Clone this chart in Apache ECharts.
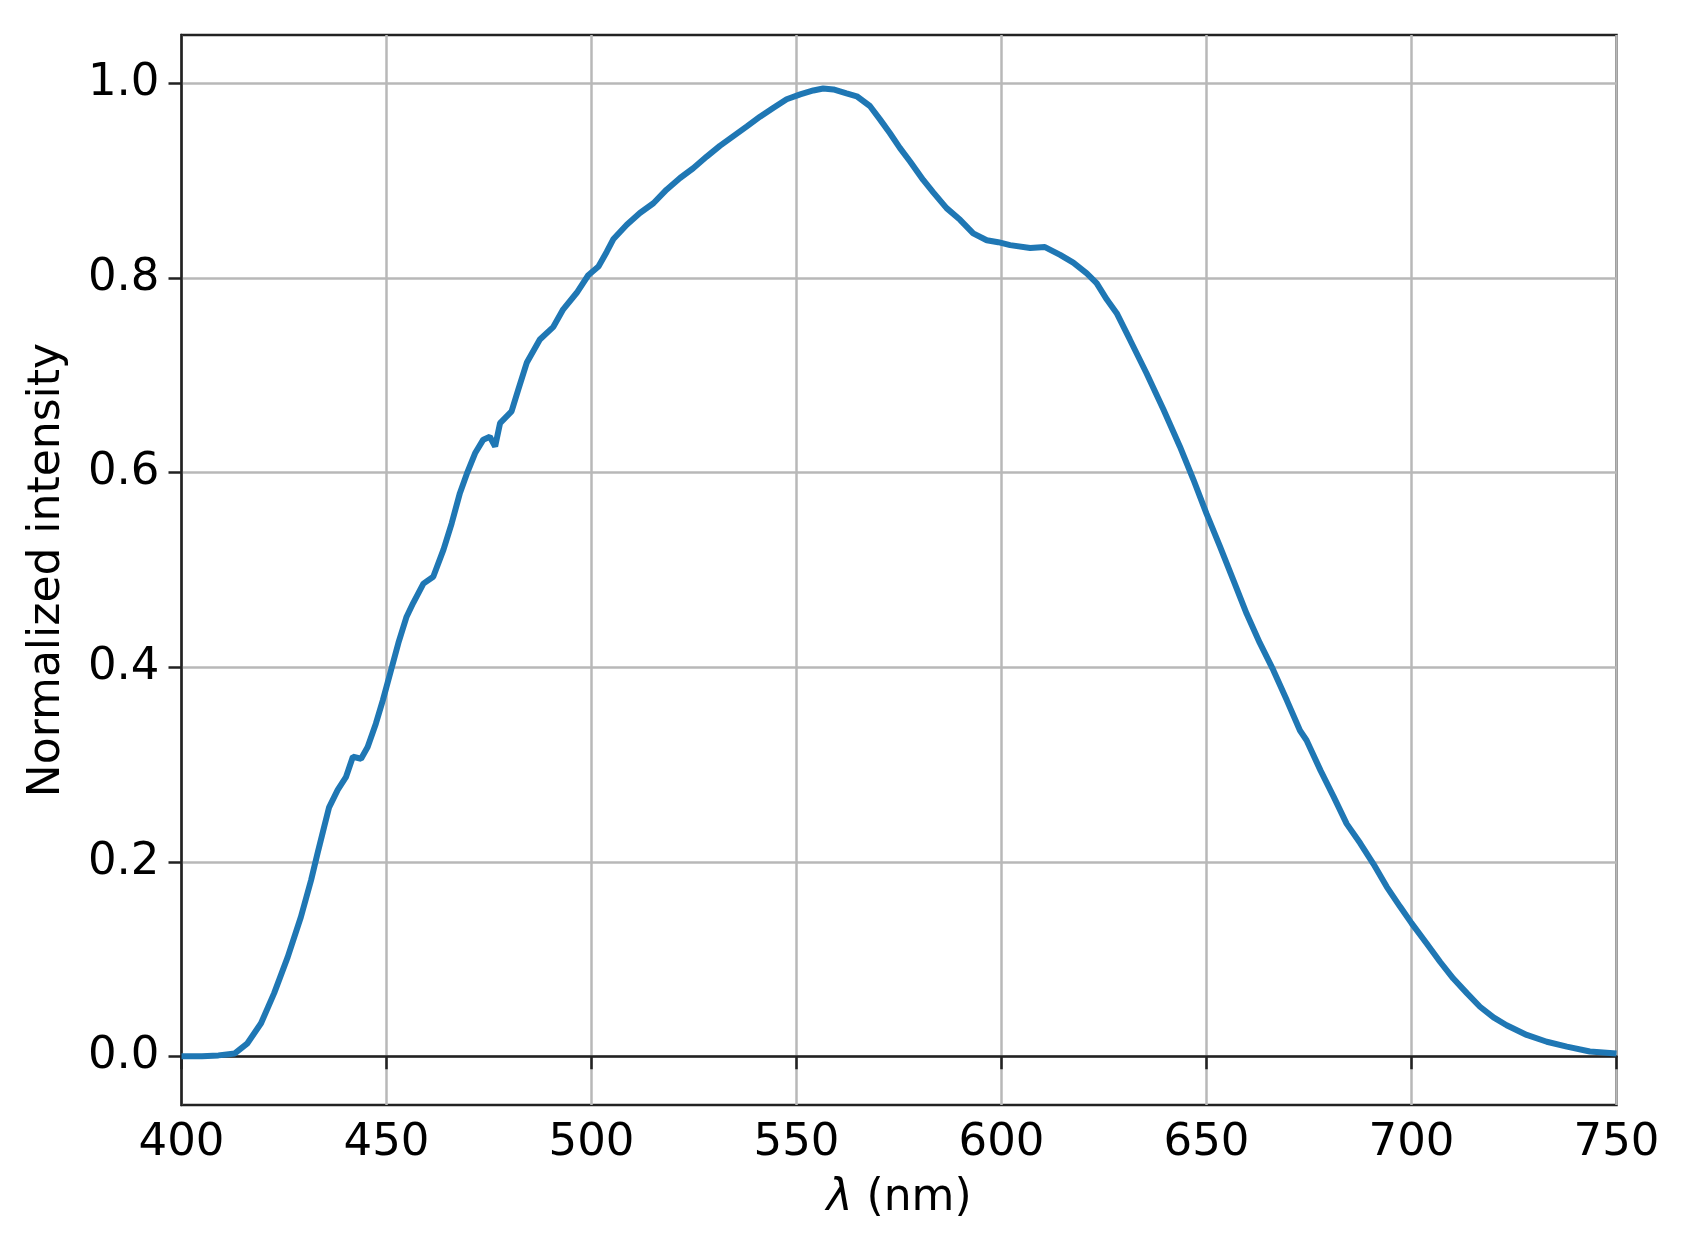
<!DOCTYPE html>
<html>
<head>
<meta charset="utf-8">
<title>Spectrum</title>
<script src="https://cdn.jsdelivr.net/npm/echarts@6/dist/echarts.min.js"></script>
<style>
  html, body { margin: 0; padding: 0; background: #fff; }
  #chart { width: 1694px; height: 1255px; }
</style>
</head>
<body>
<div id="chart"></div>
<script>
// wavelength (nm)
const wavelengths = [
  400, 405, 409, 411, 413, 416, 419.4, 422.6, 425.9, 429.1,
  431.6, 433.2, 434.8, 436.0, 438.1, 440.1, 441.8, 443.8, 445.4, 447.4,
  449.1, 451.1, 452.9, 454.9, 456.5, 459.0, 461.4, 463.9, 465.9, 467.9,
  469.6, 471.6, 473.6, 475.2, 476.5, 477.7, 480.5, 482.1, 484.2, 487.4,
  490.7, 493.1, 496.4, 499.2, 501.7, 503.7, 505.3, 508.6, 511.8, 515.1,
  518.3, 521.6, 524.8, 528.1, 531.3, 534.6, 537.9, 541.1, 544.3, 547.6,
  550.9, 554.1, 556.5, 559.0, 562.2, 564.7, 567.9, 570.4, 572.8, 575.2,
  577.7, 580.9, 583.4, 586.6, 589.9, 593.1, 596.4, 599.2, 602.1, 607.0,
  610.6, 614.3, 617.5, 620.8, 623.2, 625.7, 628.1, 631.3, 635.4, 639.5,
  643.5, 646.8, 650.0, 653.3, 656.5, 659.8, 663.0, 666.3, 669.6, 672.8,
  674.4, 677.8, 681.0, 684.2, 687.5, 690.7, 694.0, 697.2, 700.0, 703.7,
  707.0, 710.2, 713.5, 716.7, 720.0, 723.2, 728.1, 733.0, 737.9, 743.5,
  750
];
// normalized intensity at each wavelength
const intensity = [
  0.000, 0.000, 0.001, 0.002, 0.003, 0.013, 0.034, 0.065, 0.102, 0.143,
  0.181, 0.209, 0.236, 0.256, 0.274, 0.287, 0.308, 0.306, 0.318, 0.342,
  0.366, 0.397, 0.425, 0.452, 0.466, 0.486, 0.493, 0.521, 0.548, 0.579,
  0.599, 0.620, 0.634, 0.637, 0.627, 0.651, 0.663, 0.685, 0.713, 0.737,
  0.750, 0.768, 0.785, 0.803, 0.812, 0.827, 0.840, 0.855, 0.867, 0.877,
  0.891, 0.903, 0.913, 0.925, 0.936, 0.946, 0.956, 0.966, 0.975, 0.984,
  0.989, 0.993, 0.995, 0.994, 0.990, 0.987, 0.977, 0.963, 0.949, 0.934,
  0.920, 0.901, 0.888, 0.872, 0.860, 0.846, 0.839, 0.837, 0.834, 0.831,
  0.832, 0.824, 0.816, 0.805, 0.795, 0.778, 0.764, 0.737, 0.702, 0.665,
  0.627, 0.593, 0.558, 0.524, 0.490, 0.455, 0.425, 0.397, 0.366, 0.335,
  0.325, 0.294, 0.267, 0.239, 0.219, 0.198, 0.174, 0.154, 0.137, 0.116,
  0.097, 0.080, 0.065, 0.051, 0.040, 0.032, 0.022, 0.015, 0.010, 0.005,
  0.003
];
const yTicks = [0, 0.2, 0.4, 0.6, 0.8, 1.0];

const font = "DejaVu Sans";
const chart = echarts.init(document.getElementById("chart"));
chart.setOption({
  animation: false,
  backgroundColor: "#fff",
  grid: {
    left: 181.5,
    right: 77.5,
    top: 35,
    bottom: 150,
    show: true,
    borderColor: "#222",
    borderWidth: 2.5,
  },
  xAxis: {
    type: "value",
    min: 400,
    max: 750,
    interval: 50,
    name: "{i|λ} (nm)",
    nameLocation: "middle",
    nameGap: 72,
    nameTextStyle: {
      fontFamily: font,
      fontSize: 44,
      color: "#000",
      rich: {
        i: { fontFamily: font, fontSize: 44, fontStyle: "italic", color: "#000" },
      },
    },
    axisLine: { show: true, lineStyle: { color: "#222", width: 2.5 } },
    axisTick: { show: true, inside: false, length: 13, lineStyle: { color: "#222", width: 2.5 } },
    axisLabel: { fontFamily: font, fontSize: 45, color: "#000", margin: 16 },
    splitLine: { show: true, lineStyle: { color: "#b8b8b8", width: 2.5 } },
  },
  yAxis: {
    type: "value",
    min: -0.05,
    max: 1.05,
    name: "Normalized intensity",
    nameLocation: "middle",
    nameRotate: 90,
    nameGap: 112,
    nameTextStyle: { fontFamily: font, fontSize: 44, color: "#000" },
    axisLine: { show: true, lineStyle: { color: "#222", width: 2.5 } },
    axisTick: {
      show: true,
      length: 13,
      customValues: yTicks,
      lineStyle: { color: "#222", width: 2.5 },
    },
    axisLabel: {
      fontFamily: font,
      fontSize: 45,
      color: "#000",
      margin: 22,
      customValues: yTicks,
      formatter: (v) => v.toFixed(1),
    },
    splitLine: { show: true, lineStyle: { color: "#b8b8b8", width: 2.5 } },
  },
  series: [
    {
      type: "line",
      data: wavelengths.map((w, i) => [w, intensity[i]]),
      showSymbol: false,
      smooth: false,
      lineStyle: { color: "#1f77b4", width: 6 },
      itemStyle: { color: "#1f77b4" },
    },
  ],
});
</script>
</body>
</html>
